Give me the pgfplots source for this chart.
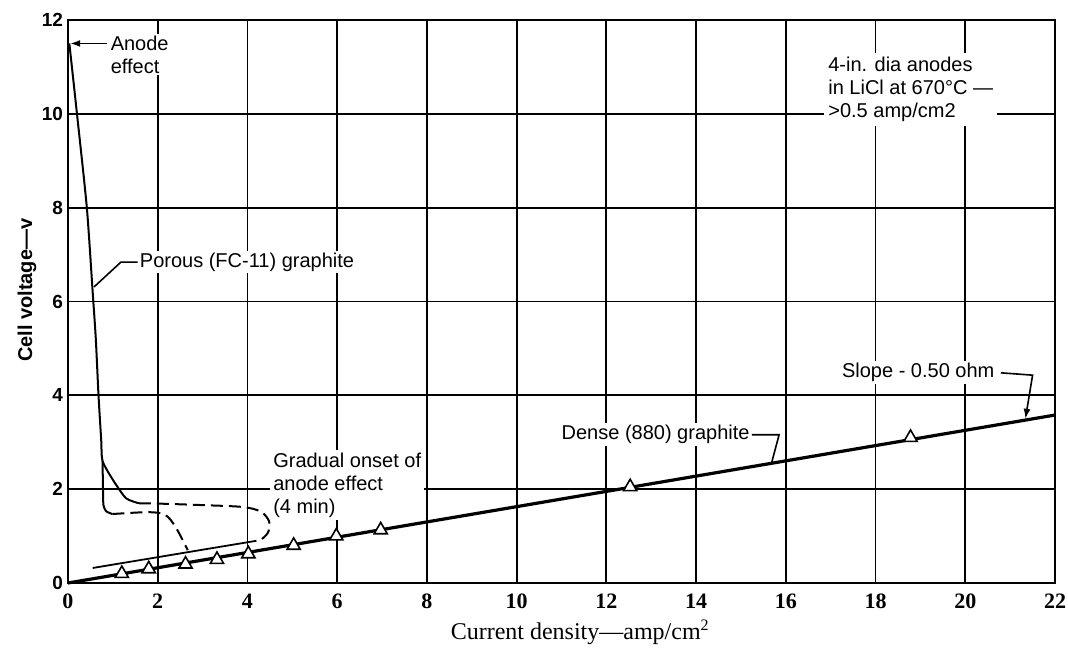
\documentclass[border=0pt]{standalone}
\usepackage{pgfplots}
\pgfplotsset{compat=1.18}
\usepackage{pgfplotstable}
\usepackage{fontspec}
\setmainfont{Liberation Serif}
\setsansfont{Liberation Sans}
\usetikzlibrary{arrows.meta,calc}

\pgfplotstableread{
x y
0 0
22 3.58
}\dense

\pgfplotstableread{
x y
1.2 0.20
1.8 0.30
2.62 0.40
3.32 0.50
4.02 0.62
5.03 0.80
5.98 1.00
6.97 1.13
12.53 2.05
18.78 3.10
}\tri

\pgfplotstableread{
x y
0.03 11.5
0.2 10.0
0.42 8.0
0.55 6.2
0.62 5.2
0.68 4.0
0.74 3.05
0.77 2.6
1.0 2.2
1.29 1.81
1.58 1.70
}\porousA

\pgfplotstableread{
x y
1.58 1.70
2.1 1.69
3.0 1.66
3.9 1.62
4.3 1.52
4.48 1.32
4.47 1.10
4.35 0.96
4.2 0.89
}\dashA

\pgfplotstableread{
x y
0.77 2.6
0.78 2.0
0.79 1.66
0.85 1.53
0.99 1.47
}\porousB

\pgfplotstableread{
x y
0.99 1.47
1.8 1.51
2.17 1.45
2.4 1.19
2.67 0.70
}\dashB

\pgfplotstableread{
x y
0.55 0.32
4.2 0.90
}\upper

\tikzset{ann/.style={font=\sffamily\fontsize{10}{11.5}\selectfont, fill=white, inner sep=1pt}}

\begin{document}
\begin{tikzpicture}
\begin{axis}[
  scale only axis, width=493.5pt, height=281.5pt,
  xmin=0, xmax=22, ymin=0, ymax=12,
  xtick={0,2,...,22}, ytick={0,2,...,12},
  grid=major, major grid style={black, line width=0.9pt},
  axis line style={black, line width=1.4pt},
  major tick length=0pt,
  /pgf/number format/assume math mode=true,
  xticklabel style={font=\fontsize{11}{13}\selectfont\bfseries, yshift=-2pt},
  yticklabel style={font=\sffamily\bfseries\fontsize{9.5}{11}\selectfont, xshift=1pt},
  clip=false,
]
% white boxes behind text (break grid lines)
\node[ann, anchor=north west, inner sep=1.5pt, align=left] at (axis cs:4.5,2.85)
  {Gradual onset of\\anode effect\\(4 min)};
\node[ann, anchor=north west, inner sep=2pt, align=left] at (axis cs:16.85,11.3)
  {4-in. dia anodes\\in LiCl at 670\textdegree C —\\\textgreater0.5 amp/cm2};
\node[ann, anchor=west] at (axis cs:1.55,6.84) {Porous (FC-11) graphite};
\node[ann, anchor=west] (dn) at (axis cs:10.95,3.16) {Dense (880) graphite};
\node[ann, anchor=west] (sl) at (axis cs:17.2,4.48) {Slope - 0.50 ohm};
\node[ann, anchor=north west, align=left] at (axis cs:0.9,11.72) {Anode\\effect};

\addplot[black, line width=1.6pt] table {\dense};
\addplot[black, line width=0.9pt] table {\upper};
\addplot[black, line width=1.0pt, smooth, tension=0.4] table {\porousA};
\addplot[black, line width=1.0pt, dashed, dash pattern=on 6pt off 3pt, smooth, tension=0.5] table {\dashA};
\addplot[black, line width=1.0pt, smooth, tension=0.4] table {\porousB};
\addplot[black, line width=1.0pt, dashed, dash pattern=on 6pt off 3pt, smooth, tension=0.5] table {\dashB};
\addplot[only marks, mark=triangle*, mark size=3.8pt, mark options={fill=white, draw=black, line width=0.8pt}] table {\tri};

% leaders
\draw[black, line width=0.8pt, -{Latex[length=5pt,width=3.5pt]}] (axis cs:0.88,11.5) -- (axis cs:0.05,11.5);
\draw[black, line width=0.8pt] (axis cs:1.55,6.84) -- (axis cs:1.18,6.84) -- (axis cs:0.58,6.31);
\draw[black, line width=0.8pt] (dn.east) -- (axis cs:15.85,3.16) -- (axis cs:15.68,2.55);
\draw[black, line width=0.8pt, -{Latex[length=5pt,width=3.5pt]}] ($(sl.east)+(2pt,0)$) -- (axis cs:21.5,4.43) -- (axis cs:21.34,3.5);
\end{axis}
\node[font=\fontsize{12}{14}\selectfont] at ($(current axis.south west)!0.519!(current axis.south east)+(0,-24.5pt)$)
  {Current density—amp/cm\textsuperscript{2}};
\node[font=\sffamily\bfseries\fontsize{10}{12}\selectfont, rotate=90] at ($(current axis.south west)!0.52!(current axis.north west)+(-20.5pt,0)$)
  {Cell voltage—v};
\pgfresetboundingbox
\path[use as bounding box] ($(current axis.south west)+(-34pt,-35pt)$) rectangle ($(current axis.north east)+(6.5pt,10pt)$);
\end{tikzpicture}
\end{document}
